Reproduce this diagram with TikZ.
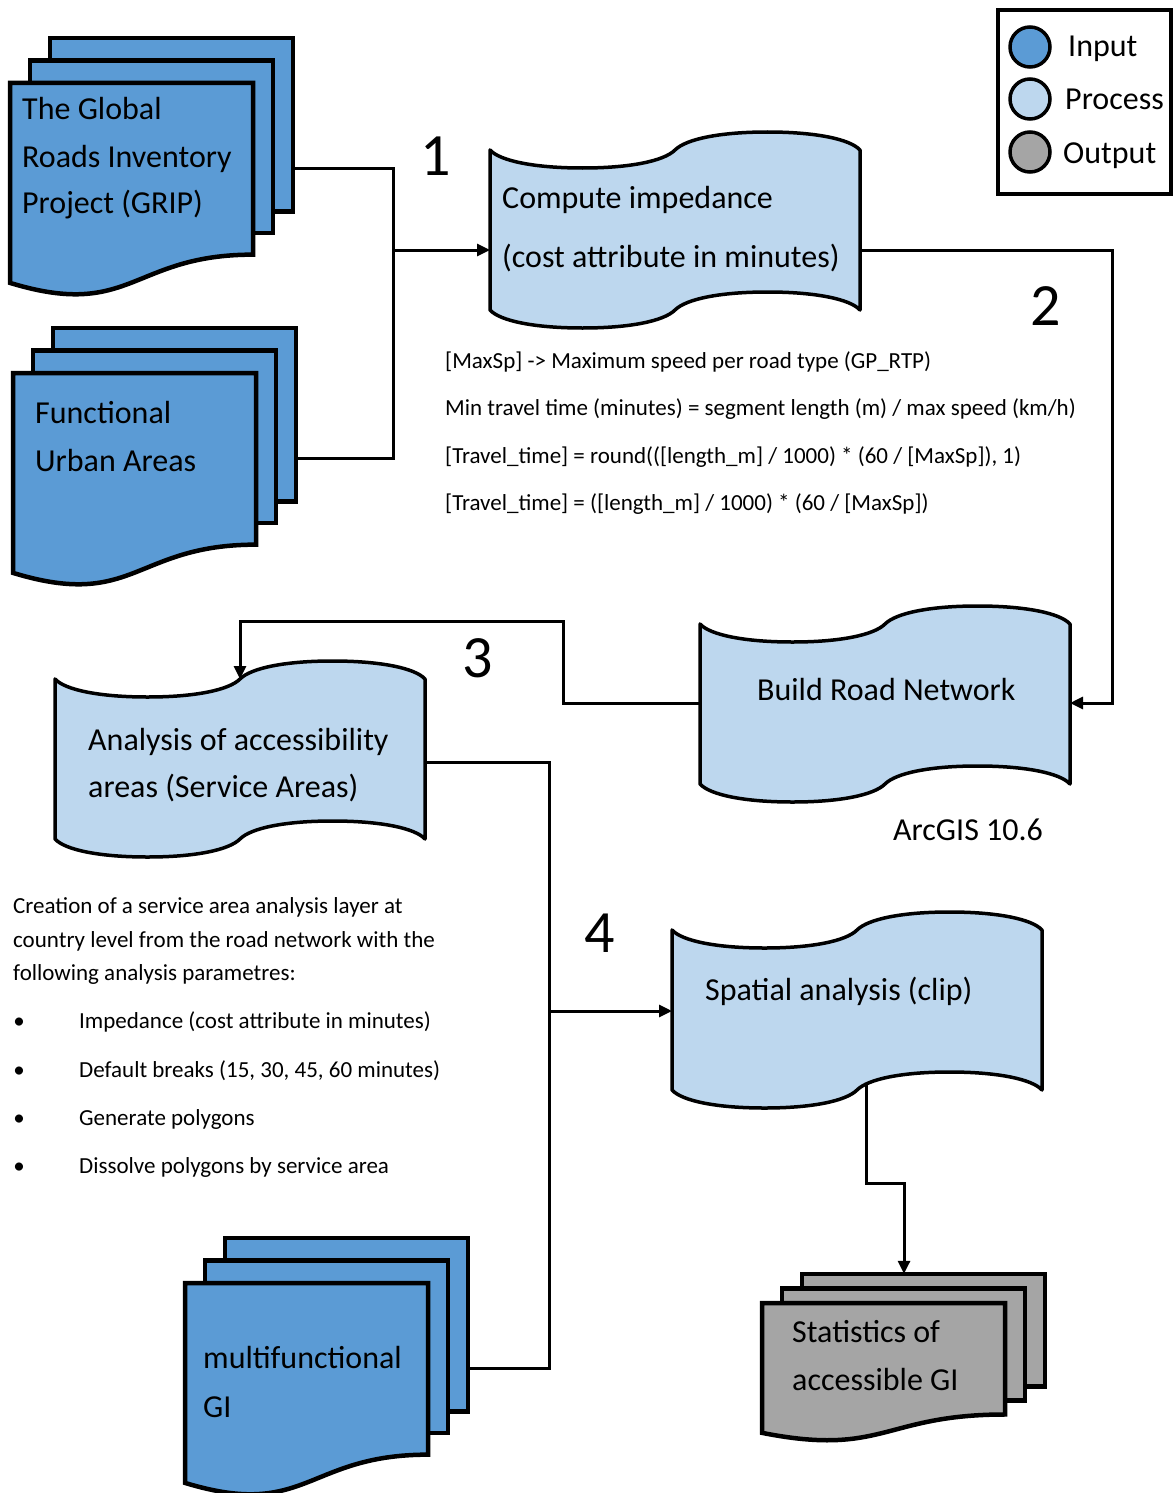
\documentclass[tikz,border=0pt]{standalone}
\usepackage{fontspec}
\setmainfont{Carlito}
\usetikzlibrary{arrows.meta}
\definecolor{inblue}{RGB}{91,155,213}
\definecolor{prblue}{RGB}{189,215,238}
\definecolor{outgrey}{RGB}{165,165,165}
\tikzset{
  docline/.style={draw=black, line width=4.5pt, line join=miter},
  tapeline/.style={draw=black, line width=3.5pt, line join=round},
  conn/.style={draw=black, line width=3pt},
  arr/.style={conn, -{Triangle[length=13pt,width=12pt]}},
  big/.style={font=\fontsize{32}{38}\selectfont, inner sep=0pt, anchor=base west},
  small/.style={font=\fontsize{23}{28}\selectfont, inner sep=0pt, anchor=base west},
  num/.style={font=\fontsize{60}{70}\selectfont, inner sep=0pt, anchor=base},
  legc/.style={circle, draw=black, line width=3.5pt, minimum size=40pt, inner sep=0pt},
  pics/mdoc/.style 2 args={code={
    \draw[docline, fill=#2] (40,-0.21*#1) rectangle (283,0.60*#1);
    \draw[docline, fill=#2] (20,-0.105*#1) rectangle (263,0.70*#1);
    \draw[docline, fill=#2] (0,0) -- (243,0) -- (243,0.802*#1) .. controls (121.5,0.802*#1) and (121.5,1.1075*#1) .. (0,0.934*#1) -- cycle;
    \coordinate (-out) at (283,0.4*#1);
    \coordinate (-top) at (142,-0.21*#1);
  }},
  pics/ptape/.style={code={
    \draw[tapeline, fill=prblue]
      (0,0) .. controls (10,11) and (45,18) .. (92.5,18)
      .. controls (140,18) and (174,11) .. (185,0)
      .. controls (196,-11) and (230,-18) .. (277.5,-18)
      .. controls (325,-18) and (360,-11) .. (370,0)
      -- (370,160)
      .. controls (360,149) and (325,142) .. (277.5,142)
      .. controls (230,142) and (196,149) .. (185,160)
      .. controls (174,171) and (140,178) .. (92.5,178)
      .. controls (45,178) and (10,171) .. (0,160)
      -- cycle;
  }},
}
\begin{document}
\begin{tikzpicture}[x=1pt,y=-1pt]
\useasboundingbox[fill=white] (0,0) rectangle (1173,1493);

% input / output documents
\pic (grip) at (10,83) {mdoc={214}{inblue}};
\pic (fua) at (13,373) {mdoc={214}{inblue}};
\pic (gi) at (185,1283) {mdoc={214}{inblue}};
\pic (st) at (762,1303) {mdoc={139}{outgrey}};

% process tapes
\pic (ci) at (490,150) {ptape};
\pic (brn) at (700,624) {ptape};
\pic (asa) at (55,679) {ptape};
\pic (sp) at (672,930) {ptape};

% connection points
\coordinate (ci-w) at (490,250);
\coordinate (ci-e) at (860,250);
\coordinate (brn-e) at (1070,703);
\coordinate (brn-w) at (700,703);
\coordinate (asa-n) at (240,679);
\coordinate (asa-e) at (425,762);
\coordinate (sp-w) at (672,1011);
\coordinate (sp-s) at (866,1084);
\coordinate (j1) at (393,250);
\coordinate (k2) at (1112,500);
\coordinate (k3) at (563,621);
\coordinate (k4) at (549,1011);
\coordinate (k6) at (904,1183);

% connectors
\draw[conn] (grip-out) -| (j1);
\draw[conn] (fua-out) -| (j1);
\draw[arr] (j1) -- (ci-w);
\draw[arr] (ci-e) -| (k2) |- (brn-e);
\draw[arr] (brn-w) -| (k3) -| (asa-n);
\draw[conn] (asa-e) -| (k4) |- (gi-out);
\draw[arr] (k4) -- (sp-w);
\draw[arr] (sp-s) |- (k6) -- (st-top);

% texts in shapes
\node[big] (t1a) at (22,120) {The Global};
\node[big] (t1b) at (22,167) {Roads Inventory};
\node[big] (t1c) at (22,213) {Project (GRIP)};
\node[big] (t2a) at (35,423) {Functional};
\node[big] (t2b) at (35,471) {Urban Areas};
\node[big] (t3a) at (203,1368) {multifunctional};
\node[big] (t3b) at (203,1417) {GI};
\node[big] (t4a) at (792,1342) {Statistics of};
\node[big] (t4b) at (792,1390) {accessible GI};
\node[big] (p1a) at (502,208) {Compute impedance};
\node[big] (p1b) at (502,267) {(cost attribute in minutes)};
\node[big] (p2) at (757,700) {Build Road Network};
\node[big] (p3a) at (88,750) {Analysis of accessibility};
\node[big] (p3b) at (88,797) {areas (Service Areas)};
\node[big] (p4) at (705,1000) {Spatial analysis (clip)};
\node[big] (arc) at (893,840) {ArcGIS 10.6};

% step numbers
\node[num] (n1) at (436,175) {1};
\node[num] (n2) at (1046,325) {2};
\node[num] (n3) at (478,677) {3};
\node[num] (n4) at (600,952) {4};

% formula notes
\node[small] (f1) at (445,368) {[MaxSp] -> Maximum speed per road type (GP\_RTP)};
\node[small] (f2) at (445,415) {Min travel time (minutes) = segment length (m) / max speed (km/h)};
\node[small] (f3) at (445,463) {[Travel\_time] = round(([length\_m] / 1000) * (60 / [MaxSp]), 1)};
\node[small] (f4) at (445,510) {[Travel\_time] = ([length\_m] / 1000) * (60 / [MaxSp])};

% service area notes
\node[small] (c1) at (13,913) {Creation of a service area analysis layer at};
\node[small] (c2) at (13,947) {country level from the road network with the};
\node[small] (c3) at (13,980) {following analysis parametres:};
\node[small, anchor=base] (b1) at (19,1028) {•};
\node[small, anchor=base] (b2) at (19,1077) {•};
\node[small, anchor=base] (b3) at (19,1125) {•};
\node[small, anchor=base] (b4) at (19,1173) {•};
\node[small] (l1) at (79,1028) {Impedance (cost attribute in minutes)};
\node[small] (l2) at (79,1077) {Default breaks (15, 30, 45, 60 minutes)};
\node[small] (l3) at (79,1125) {Generate polygons};
\node[small] (l4) at (79,1173) {Dissolve polygons by service area};

% legend
\draw[line width=4pt] (998,10) rectangle (1171,194);
\node[legc, fill=inblue] (lgin) at (1030,47) {};
\node[legc, fill=prblue] (lgpr) at (1030,99) {};
\node[legc, fill=outgrey] (lgout) at (1030,152) {};
\node[big] (lgint) at (1068,57) {Input};
\node[big] (lgprt) at (1065,110) {Process};
\node[big] (lgoutt) at (1063,163) {Output};
\end{tikzpicture}
\end{document}
